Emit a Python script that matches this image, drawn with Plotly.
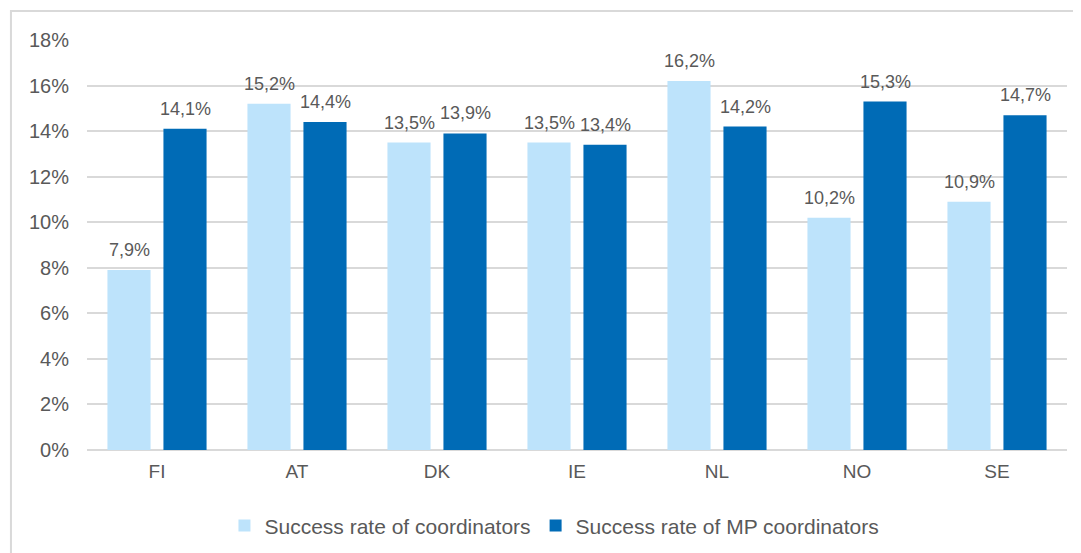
import plotly.graph_objects as go

categories = ["FI", "AT", "DK", "IE", "NL", "NO", "SE"]
coordinators = [7.9, 15.2, 13.5, 13.5, 16.2, 10.2, 10.9]
mp_coordinators = [14.1, 14.4, 13.9, 13.4, 14.2, 15.3, 14.7]
series_names = ["Success rate of coordinators", "Success rate of MP coordinators"]
y_ticks = [0, 2, 4, 6, 8, 10, 12, 14, 16, 18]

FONT = "Liberation Sans, Arial, sans-serif"
GRAY = "#595959"
COLORS = ["#BDE3FB", "#006BB6"]

fig = go.Figure()
annotations = []
for vals, name, color, shift in zip([coordinators, mp_coordinators], series_names, COLORS, [-28, 28]):
    fig.add_trace(go.Bar(
        x=categories, y=vals, name=name,
        marker=dict(color=color, line=dict(width=0)),
    ))
    for c, v in zip(categories, vals):
        annotations.append(dict(
            x=c, y=v, xref="x", yref="y", text=f"{v:.1f}%".replace(".", ","),
            showarrow=False, xshift=shift, yshift=8, yanchor="bottom",
            font=dict(family=FONT, size=18, color=GRAY),
        ))

# page body has an 8px margin, so the figure is sized/positioned to compensate
fig.update_layout(
    width=1073, height=545,
    margin=dict(l=79, r=14, t=32, b=103, autoexpand=False),
    paper_bgcolor="white", plot_bgcolor="white",
    barmode="group", bargap=0.2, bargroupgap=0.23,
    font=dict(family=FONT, size=18, color=GRAY),
    legend=dict(orientation="h", x=0.477, xanchor="center", y=-0.135, yanchor="top",
                font=dict(family=FONT, size=21, color=GRAY), itemwidth=30,
                traceorder="normal"),
    xaxis=dict(showline=False, ticks="", automargin=False, ticklabelstandoff=8,
               tickfont=dict(size=19, color=GRAY)),
    yaxis=dict(range=[0, 18], tickmode="array", tickvals=y_ticks,
               ticktext=[f"{t}%" for t in y_ticks], automargin=False,
               showgrid=True, gridcolor="#D9D9D9", gridwidth=2,
               zeroline=True, zerolinecolor="#D9D9D9", zerolinewidth=2,
               tickfont=dict(size=20, color=GRAY), ticklabelstandoff=17),
    annotations=annotations,
    shapes=[dict(type="rect", xref="paper", yref="paper",
                 x0=-0.0776, x1=1.03, y0=-0.3, y1=1.071,
                 line=dict(color="#D9D9D9", width=2), layer="below")],
)

fig.write_html("out.html")
